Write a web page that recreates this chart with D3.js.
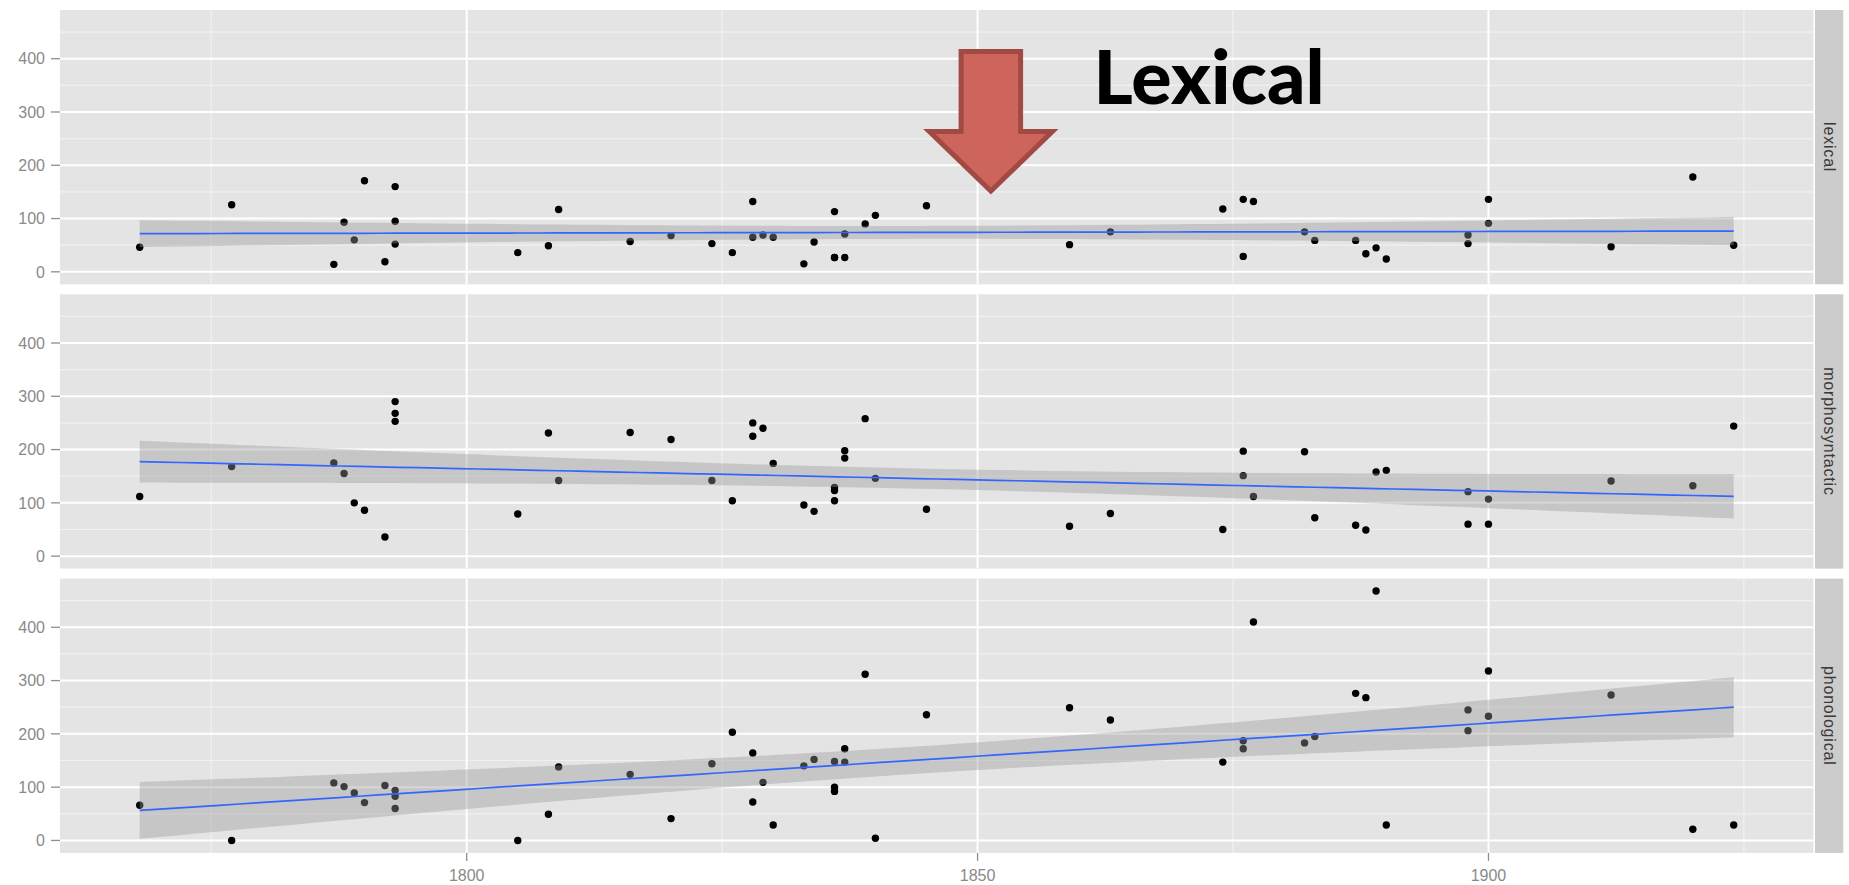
<!DOCTYPE html>
<html><head><meta charset="utf-8">
<script src="https://cdn.jsdelivr.net/npm/d3@7"></script>
<style>body{margin:0;background:#fff;} svg{display:block;}</style>
</head><body><svg id="c" width="1849" height="885"></svg>
<script>
// ---- data ----
const years = [1768,1777,1787,1788,1789,1790,1792,1793,1793,1793,1805,1808,1809,1816,1820,1824,1826,1828,1828,1829,1830,1833,1834,1836,1836,1836,1837,1837,1839,1840,1845,1859,1863,1874,1876,1876,1877,1882,1883,1887,1888,1889,1890,1898,1898,1900,1900,1912,1920,1924];
const lexical = [46,126,14,93,60,171,19,160,95,52,36,49,117,57,68,53,36,132,65,69,65,15,56,113,27,27,27,71,90,106,124,51,75,118,136,29,132,75,59,59,34,45,24,69,53,136,91,47,178,50];
const morphosyntactic = [112,168,175,155,100,86,36,290,268,253,79,231,142,232,219,142,104,250,225,240,174,96,84,129,123,104,198,184,258,146,88,56,80,50,197,151,112,196,72,58,49,158,161,121,60,107,60,141,132,244];
const phonological = [66,0,108,101,89,71,103,94,83,60,0,49,138,124,41,144,203,164,72,109,29,140,152,148,100,92,172,147,312,4,236,249,226,147,187,172,410,183,195,276,268,468,29,245,206,318,233,273,21,29];
const facetLabels = ["lexical","morphosyntactic","phonological"];
const xTicks = [1800,1850,1900];
const xMinor = [1775,1825,1875,1925];
const yTicks = [0,100,200,300,400];
const yMinor = [50,150,250,350,450];
const annotationText = "Lexical";
// annotation in data units (lexical panel)
const arrowTip = {year:1851.3, value:151.7};
const arrowHeadBase = 263.4, arrowTop = 413.5, arrowHeadHalf = 6.02, arrowShaftHalf = 2.91;
const annotationAnchor = {year:1861.35, value:314.4};

const series = [lexical, morphosyntactic, phonological];

// ---- layout ----
const W = 1849, H = 885;
const panelLeft = 60, panelRight = 1813.4;
const panelTops = [10, 294.3, 578.6], panelH = 274.3;
const stripX = 1815, stripW = 28.3;

const svg = d3.select("#c");

function expand(ext, f){ const r = ext[1]-ext[0]; return [ext[0]-f*r, ext[1]+f*r]; }
const x = d3.scaleLinear().domain(expand(d3.extent(years),0.05)).range([panelLeft, panelRight]);
const allVals = [].concat(...series);
const yDomain = expand(d3.extent(allVals),0.05);

function lm(xs, ys){
  const n = xs.length, mx = d3.mean(xs), my = d3.mean(ys);
  let sxx=0, sxy=0; for(let i=0;i<n;i++){ sxx+=(xs[i]-mx)**2; sxy+=(xs[i]-mx)*(ys[i]-my); }
  const b = sxy/sxx, a = my - b*mx;
  let sse=0; for(let i=0;i<n;i++){ sse += (ys[i]-a-b*xs[i])**2; }
  const s = Math.sqrt(sse/(n-2));
  const t = 2.0106; // t(0.975, 48)
  const [x0,x1] = d3.extent(xs);
  const pts = d3.range(0,81).map(k=>{ const xv = x0+(x1-x0)*k/80; const fit=a+b*xv;
    const se = s*Math.sqrt(1/n + (xv-mx)**2/sxx); return {x:xv, fit, lo:fit-t*se, hi:fit+t*se}; });
  return pts;
}

const font = "'Liberation Sans', Arial, Helvetica, sans-serif";

series.forEach((vals, p) => {
  const top = panelTops[p];
  const y = d3.scaleLinear().domain(yDomain).range([top+panelH, top]);
  const g = svg.append("g");
  g.append("rect").attr("x",panelLeft).attr("y",top).attr("width",panelRight-panelLeft).attr("height",panelH).attr("fill","#e4e4e4");
  const clipId = "clip"+p;
  svg.append("clipPath").attr("id",clipId).append("rect").attr("x",panelLeft).attr("y",top).attr("width",panelRight-panelLeft).attr("height",panelH);
  const inner = g.append("g").attr("clip-path",`url(#${clipId})`);
  // minor grid
  inner.selectAll(".hm").data(yMinor).join("line").attr("x1",panelLeft).attr("x2",panelRight)
    .attr("y1",d=>y(d)).attr("y2",d=>y(d)).attr("stroke","#f1f1f1").attr("stroke-width",1.2);
  inner.selectAll(".vm").data(xMinor).join("line").attr("y1",top).attr("y2",top+panelH)
    .attr("x1",d=>x(d)).attr("x2",d=>x(d)).attr("stroke","#f1f1f1").attr("stroke-width",1.2);
  // major grid
  inner.selectAll(".hM").data(yTicks).join("line").attr("x1",panelLeft).attr("x2",panelRight)
    .attr("y1",d=>y(d)).attr("y2",d=>y(d)).attr("stroke","#ffffff").attr("stroke-width",2);
  inner.selectAll(".vM").data(xTicks).join("line").attr("y1",top).attr("y2",top+panelH)
    .attr("x1",d=>x(d)).attr("x2",d=>x(d)).attr("stroke","#ffffff").attr("stroke-width",2);
  // points
  inner.selectAll("circle").data(vals).join("circle").attr("cx",(d,i)=>x(years[i])).attr("cy",d=>y(d))
    .attr("r",3.7).attr("fill","#000");
  // smooth
  const fit = lm(years, vals);
  inner.append("path").datum(fit).attr("d", d3.area().x(d=>x(d.x)).y0(d=>y(d.lo)).y1(d=>y(d.hi)))
    .attr("fill","#999999").attr("fill-opacity",0.4);
  inner.append("path").datum(fit).attr("d", d3.line().x(d=>x(d.x)).y(d=>y(d.fit)))
    .attr("fill","none").attr("stroke","#3366FF").attr("stroke-width",1.7);
  // y axis
  const ya = g.append("g");
  ya.selectAll("line").data(yTicks).join("line").attr("x1",51).attr("x2",panelLeft)
    .attr("y1",d=>y(d)).attr("y2",d=>y(d)).attr("stroke","#8f8f8f").attr("stroke-width",1.3);
  ya.selectAll("text").data(yTicks).join("text").attr("x",45).attr("y",d=>y(d)).attr("dy","0.36em")
    .attr("text-anchor","end").attr("font-family",font).attr("font-size",16).attr("fill","#8a8a8a").text(d=>d);
  // strip
  g.append("rect").attr("x",stripX).attr("y",top).attr("width",stripW).attr("height",panelH).attr("fill","#cccccc");
  g.append("text").attr("transform",`translate(${stripX+stripW/2},${top+panelH/2}) rotate(90)`)
    .attr("text-anchor","middle").attr("dy","0.35em").attr("font-family",font).attr("font-size",16)
    .attr("letter-spacing",0.8).attr("fill","#3a3a3a").text(facetLabels[p]);

  if (p === 0) {
    // annotation arrow + label
    const pts = [
      [arrowTip.year-arrowShaftHalf, arrowTop],[arrowTip.year+arrowShaftHalf, arrowTop],
      [arrowTip.year+arrowShaftHalf, arrowHeadBase],[arrowTip.year+arrowHeadHalf, arrowHeadBase],
      [arrowTip.year, arrowTip.value],
      [arrowTip.year-arrowHeadHalf, arrowHeadBase],[arrowTip.year-arrowShaftHalf, arrowHeadBase]
    ].map(d=>[x(d[0]), y(d[1])]);
    g.append("polygon").attr("points", pts.map(d=>d.join(",")).join(" "))
      .attr("fill","#cd655d").attr("stroke","#a14a44").attr("stroke-width",5).attr("stroke-linejoin","miter");
    g.append("text").attr("x", x(annotationAnchor.year)).attr("y", y(annotationAnchor.value))
      .attr("font-family","Lato, 'Open Sans', sans-serif").attr("font-weight",900).attr("font-size",74)
      .attr("textLength",231).attr("lengthAdjust","spacingAndGlyphs").attr("fill","#000").text(annotationText);
  }
  if (p === 2) {
    const xa = g.append("g");
    xa.selectAll("line").data(xTicks).join("line").attr("x1",d=>x(d)).attr("x2",d=>x(d))
      .attr("y1",top+panelH).attr("y2",top+panelH+8).attr("stroke","#8f8f8f").attr("stroke-width",1.3);
    xa.selectAll("text").data(xTicks).join("text").attr("x",d=>x(d)).attr("y",top+panelH+28)
      .attr("text-anchor","middle").attr("font-family",font).attr("font-size",16).attr("fill","#8a8a8a").text(d=>d);
  }
});
</script></body></html>
